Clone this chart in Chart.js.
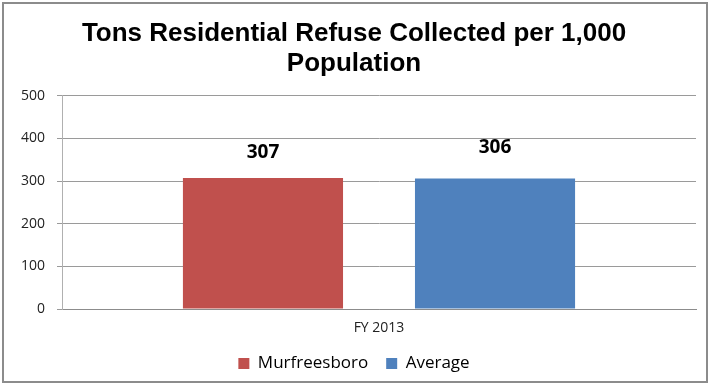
<!DOCTYPE html>
<html>
<head>
<meta charset="utf-8">
<script src="https://cdn.jsdelivr.net/npm/chart.js@4"></script>
<style>
  html, body { margin: 0; padding: 0; background: #fff; }
  #wrap { width: 710px; height: 385px; position: relative; }
</style>
</head>
<body>
<div id="wrap"><canvas id="grafica" width="710" height="385"></canvas></div>
<script>
const categorias = ["FY 2013"];
const murfreesboro = [307];
const promedio = [306];
const titulo = ["Tons Residential Refuse Collected per 1,000", "Population"];

// etiquetas de valor sobre cada barra
const etiquetasValor = {
    id: "etiquetasValor",
    afterDatasetsDraw(chart) {
        const ctx = chart.ctx;
        ctx.save();
        ctx.font = "bold 19px 'Open Sans', Arial, sans-serif";
        ctx.fillStyle = "#000";
        ctx.textAlign = "center";
        ctx.textBaseline = "middle";
        chart.data.datasets.forEach((ds, i) => {
            chart.getDatasetMeta(i).data.forEach((bar, j) => {
                ctx.fillText(ds.data[j], bar.x, bar.y - 26 - i * 5);
            });
        });
        ctx.restore();
    }
};

// marco gris alrededor del grafico
const marco = {
    id: "marco",
    afterDraw(chart) {
        const ctx = chart.ctx;
        ctx.save();
        ctx.strokeStyle = "#8c8c8c";
        ctx.lineWidth = 2;
        ctx.strokeRect(3, 3, 704, 379);
        ctx.restore();
    }
};

new Chart(document.getElementById("grafica").getContext("2d"), {
    type: "bar",
    data: {
        labels: categorias,
        datasets: [
            {
                label: "Murfreesboro",
                data: murfreesboro,
                backgroundColor: "#c0504d",
                categoryPercentage: 0.732,
                barPercentage: 0.69
            },
            {
                label: "Average",
                data: promedio,
                backgroundColor: "#4f81bd",
                categoryPercentage: 0.732,
                barPercentage: 0.69
            }
        ]
    },
    options: {
        responsive: false,
        animation: false,
        layout: { padding: { left: 12, right: 14, top: 19, bottom: 3 } },
        plugins: {
            title: {
                display: true,
                text: titulo,
                color: "#000",
                font: { family: "'Liberation Sans', Arial, sans-serif", size: 26, weight: "bold", lineHeight: 1.15 },
                padding: { top: 0, bottom: 17 }
            },
            legend: {
                position: "bottom",
                labels: {
                    color: "#000",
                    font: { family: "'Open Sans', Arial, sans-serif", size: 17 },
                    boxWidth: 11,
                    boxHeight: 11,
                    padding: 18
                }
            },
            tooltip: { enabled: false }
        },
        scales: {
            x: {
                afterFit(scale) { scale.height = 28; },
                grid: { display: false, drawTicks: false },
                border: { color: "#8c8c8c", width: 1 },
                ticks: {
                    color: "#222",
                    font: { family: "'Open Sans', Arial, sans-serif", size: 14, lineHeight: 0.9 },
                    padding: 13
                }
            },
            y: {
                min: 0,
                max: 500,
                afterFit(scale) { scale.width = 50; },
                border: { color: "#b0b0b0", width: 1 },
                grid: { color: "#9a9a9a", tickLength: 5, tickColor: "#9a9a9a" },
                ticks: {
                    stepSize: 100,
                    color: "#222",
                    font: { family: "'Open Sans', Arial, sans-serif", size: 14 },
                    padding: 12
                }
            }
        }
    },
    plugins: [etiquetasValor, marco]
});
</script>
</body>
</html>
